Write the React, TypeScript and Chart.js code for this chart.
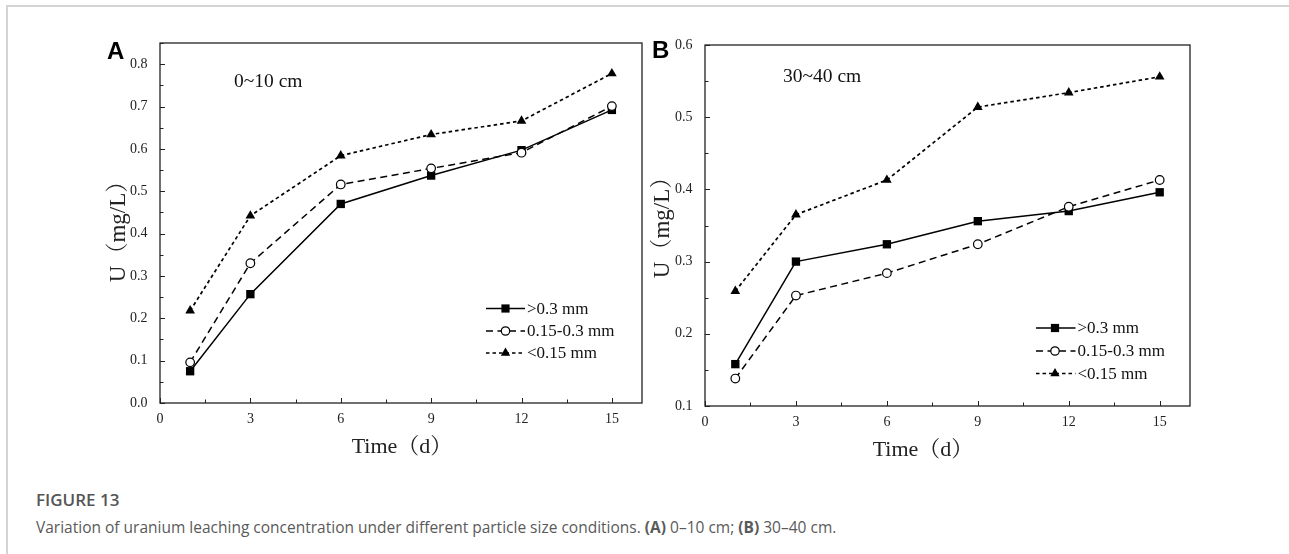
import React, { useEffect, useRef } from 'react';
import { Chart, registerables } from 'chart.js';

Chart.register(...registerables);

// ---------- data ----------
const DAYS = [1, 3, 6, 9, 12, 15];
const SERIES_LABELS = ['>0.3 mm', '0.15-0.3 mm', '<0.15 mm'];
const A_COARSE = [0.075, 0.257, 0.47, 0.537, 0.597, 0.692];
const A_MEDIUM = [0.096, 0.33, 0.516, 0.554, 0.591, 0.701];
const A_FINE = [0.218, 0.442, 0.584, 0.634, 0.666, 0.778];
const B_COARSE = [0.158, 0.3, 0.324, 0.356, 0.37, 0.396];
const B_MEDIUM = [0.138, 0.253, 0.284, 0.324, 0.376, 0.413];
const B_FINE = [0.259, 0.365, 0.413, 0.514, 0.534, 0.556];
const PANEL_LETTERS = ['A', 'B'];
const DEPTH_LABELS = ['0~10 cm', '30~40 cm'];
const X_TITLE = 'Time（d）';
const Y_TITLE = 'U（mg/L）';
const CAPTION_HEAD = 'FIGURE 13';
const CAPTION_TEXT = 'Variation of uranium leaching concentration under different particle size conditions.';
const CAPTION_PARTS = ['(A)', ' 0–10 cm; ', '(B)', ' 30–40 cm.'];

const SERIF = "'Liberation Serif', 'Times New Roman', 'Noto Serif CJK SC', 'Noto Sans CJK SC', serif";
const DASHES = [[], [7, 4.5], [3.5, 3]];

function isMult(v: number, step: number) {
  const r = v / step;
  return Math.abs(r - Math.round(r)) < 1e-6;
}

function drawMarker(ctx: CanvasRenderingContext2D, kind: number, x: number, y: number) {
  ctx.save();
  ctx.setLineDash([]);
  ctx.strokeStyle = '#000';
  ctx.fillStyle = '#000';
  if (kind === 0) {
    const s = 4.1;
    ctx.fillRect(x - s, y - s, 2 * s, 2 * s);
  } else if (kind === 1) {
    ctx.beginPath();
    ctx.arc(x, y, 4.2, 0, Math.PI * 2);
    ctx.fillStyle = '#fff';
    ctx.fill();
    ctx.lineWidth = 1.2;
    ctx.stroke();
  } else {
    const r = 5.4;
    ctx.beginPath();
    ctx.moveTo(x, y - r);
    ctx.lineTo(x + r * Math.sin((2 * Math.PI) / 3), y - r * Math.cos((2 * Math.PI) / 3));
    ctx.lineTo(x + r * Math.sin((4 * Math.PI) / 3), y - r * Math.cos((4 * Math.PI) / 3));
    ctx.closePath();
    ctx.fill();
  }
  ctx.restore();
}

type PanelCfg = {
  idx: number;
  coarse: number[];
  medium: number[];
  fine: number[];
  yMin: number;
  yMax: number;
  top: number;
  padRight: number;
  yAxisW: number;
  xAxisH: number;
  letter: { x: number; y: number };
  depth: { x: number; y: number; size: number };
  legend: { x0: number; x1: number; xm: number; tx: number; rows: number[]; size: number };
  xTitle: { x: number; y: number };
  yTitle: { x: number; y: number };
};

function decorPlugin(cfg: PanelCfg) {
  return {
    id: 'decor' + cfg.idx,
    afterDraw(chart: any) {
      const ctx: CanvasRenderingContext2D = chart.ctx;
      const { left, top, right, bottom } = chart.chartArea;
      const xs = chart.scales.x;
      const ys = chart.scales.y;
      ctx.save();
      // frame
      ctx.strokeStyle = '#222';
      ctx.lineWidth = 1.3;
      ctx.setLineDash([]);
      ctx.strokeRect(left, top, right - left, bottom - top);
      // inward ticks
      ctx.lineWidth = 1;
      xs.ticks.forEach((t: any) => {
        if (!isMult(t.value, 1.5)) return;
        const major = isMult(t.value, 3);
        const px = Math.round(xs.getPixelForValue(t.value)) + 0.5;
        ctx.beginPath();
        ctx.moveTo(px, bottom);
        ctx.lineTo(px, bottom - (major ? 5 : 3.5));
        ctx.stroke();
      });
      ys.ticks.forEach((t: any) => {
        if (!isMult(t.value, 0.05)) return;
        const major = isMult(t.value, 0.1);
        const py = Math.round(ys.getPixelForValue(t.value)) + 0.5;
        ctx.beginPath();
        ctx.moveTo(left, py);
        ctx.lineTo(left + (major ? 5 : 3.5), py);
        ctx.stroke();
      });
      // panel letter
      ctx.fillStyle = '#000';
      ctx.font = "bold 24px 'Liberation Sans', Arial, sans-serif";
      ctx.textAlign = 'left';
      ctx.textBaseline = 'alphabetic';
      ctx.fillText(PANEL_LETTERS[cfg.idx], cfg.letter.x, cfg.letter.y);
      // depth label
      ctx.fillStyle = '#111';
      ctx.font = `${cfg.depth.size}px ${SERIF}`;
      ctx.textBaseline = 'middle';
      ctx.fillText(DEPTH_LABELS[cfg.idx], cfg.depth.x, cfg.depth.y);
      // legend
      const L = cfg.legend;
      SERIES_LABELS.forEach((lab, i) => {
        const y = L.rows[i];
        ctx.strokeStyle = '#000';
        ctx.lineWidth = i === 2 ? 1.7 : 1.5;
        ctx.setLineDash(DASHES[i]);
        ctx.beginPath();
        ctx.moveTo(L.x0, y);
        ctx.lineTo(L.x1, y);
        ctx.stroke();
        drawMarker(ctx, i, L.xm, y);
        ctx.setLineDash([]);
        ctx.fillStyle = '#111';
        ctx.font = `${L.size}px ${SERIF}`;
        ctx.textAlign = 'left';
        ctx.textBaseline = 'middle';
        ctx.fillText(lab, L.tx, y + 1);
      });
      // axis titles
      ctx.fillStyle = '#222';
      ctx.font = `22px ${SERIF}`;
      ctx.textAlign = 'center';
      ctx.textBaseline = 'middle';
      ctx.fillText(X_TITLE, cfg.xTitle.x, cfg.xTitle.y);
      ctx.save();
      ctx.font = `23px ${SERIF}`;
      ctx.translate(cfg.yTitle.x, cfg.yTitle.y);
      ctx.rotate(-Math.PI / 2);
      ctx.fillText(Y_TITLE, 0, 0);
      ctx.restore();
      ctx.restore();
    },
  };
}

function makeChart(canvas: HTMLCanvasElement, cfg: PanelCfg) {
  const pts = (arr: number[]) => DAYS.map((d, i) => ({ x: d, y: arr[i] }));
  const tickFont = { family: SERIF, size: 14 };
  return new Chart(canvas, {
    type: 'line',
    data: {
      datasets: [
        {
          label: SERIES_LABELS[0],
          data: pts(cfg.coarse),
          borderColor: '#000',
          borderWidth: 1.5,
          pointStyle: 'rect',
          pointRadius: 5.9,
          pointBackgroundColor: '#000',
          pointBorderColor: '#000',
          pointBorderWidth: 0,
          order: 1,
          tension: 0,
        },
        {
          label: SERIES_LABELS[1],
          data: pts(cfg.medium),
          borderColor: '#000',
          borderWidth: 1.5,
          borderDash: DASHES[1],
          pointStyle: 'circle',
          pointRadius: 4.3,
          pointBackgroundColor: '#fff',
          pointBorderColor: '#000',
          pointBorderWidth: 1.2,
          order: 0,
          tension: 0,
        },
        {
          label: SERIES_LABELS[2],
          data: pts(cfg.fine),
          borderColor: '#000',
          borderWidth: 1.7,
          borderDash: DASHES[2],
          pointStyle: 'triangle',
          pointRadius: 5.6,
          pointBackgroundColor: '#000',
          pointBorderColor: '#000',
          pointBorderWidth: 0,
          order: 2,
          tension: 0,
        },
      ],
    } as any,
    options: {
      responsive: false,
      animation: false,
      devicePixelRatio: 1,
      events: [],
      layout: { padding: { top: cfg.top, right: cfg.padRight, left: 0, bottom: 0 } },
      plugins: { legend: { display: false }, tooltip: { enabled: false } },
      scales: {
        x: {
          type: 'linear',
          min: 0,
          max: 16,
          ticks: {
            stepSize: 1.5,
            autoSkip: false,
            maxRotation: 0,
            padding: 8,
            color: '#222',
            font: tickFont,
            callback: (v: any) => (isMult(Number(v), 3) ? String(Math.round(Number(v))) : ''),
          },
          grid: { display: false, drawTicks: false },
          border: { display: false },
          afterFit: (s: any) => {
            s.height = cfg.xAxisH;
          },
        },
        y: {
          type: 'linear',
          min: cfg.yMin,
          max: cfg.yMax,
          ticks: {
            stepSize: 0.05,
            autoSkip: false,
            padding: 12.5,
            color: '#222',
            font: tickFont,
            callback: (v: any) => (isMult(Number(v), 0.1) ? Number(v).toFixed(1) : ''),
          },
          grid: { display: false, drawTicks: false },
          border: { display: false },
          afterFit: (s: any) => {
            s.width = cfg.yAxisW;
          },
        },
      },
    } as any,
    plugins: [decorPlugin(cfg) as any],
  });
}

const A_W = 650;
const B_W = 1289 - A_W;

const CFG_A: PanelCfg = {
  idx: 0,
  coarse: A_COARSE,
  medium: A_MEDIUM,
  fine: A_FINE,
  yMin: 0,
  yMax: 0.85,
  top: 43,
  padRight: A_W - 646,
  yAxisW: 160,
  xAxisH: 480 - 403,
  letter: { x: 107, y: 59 },
  depth: { x: 234, y: 82, size: 19.5 },
  legend: { x0: 486, x1: 525, xm: 505.5, tx: 527, rows: [308.5, 331, 353], size: 17 },
  xTitle: { x: 402, y: 447 },
  yTitle: { x: 119, y: 226 },
};

const CFG_B: PanelCfg = {
  idx: 1,
  coarse: B_COARSE,
  medium: B_MEDIUM,
  fine: B_FINE,
  yMin: 0.1,
  yMax: 0.6,
  top: 45,
  padRight: B_W - (1190 - A_W),
  yAxisW: 705 - A_W,
  xAxisH: 480 - 406,
  letter: { x: 652 - A_W, y: 58 },
  depth: { x: 783 - A_W, y: 77, size: 19.5 },
  legend: { x0: 1036 - A_W, x1: 1075.5 - A_W, xm: 1055 - A_W, tx: 1077.5 - A_W, rows: [328, 351, 373.5], size: 17 },
  xTitle: { x: 923 - A_W, y: 450 },
  yTitle: { x: 663 - A_W, y: 222 },
};

export default function App() {
  const refA = useRef<HTMLCanvasElement | null>(null);
  const refB = useRef<HTMLCanvasElement | null>(null);

  useEffect(() => {
    const a = refA.current ? makeChart(refA.current, CFG_A) : null;
    const b = refB.current ? makeChart(refB.current, CFG_B) : null;
    return () => {
      a?.destroy();
      b?.destroy();
    };
  }, []);

  return (
    <div style={{ position: 'absolute', left: 0, top: 0, width: 1289, height: 554, background: '#fff', overflow: 'hidden' }}>
      <div
        style={{
          position: 'absolute',
          left: 6,
          top: 5,
          width: 1289 - 6,
          height: 554 - 5,
          borderTop: '2px solid #d4d4d4',
          borderLeft: '2px solid #d4d4d4',
          boxSizing: 'border-box',
        }}
      />
      <canvas ref={refA} width={A_W} height={480} style={{ position: 'absolute', left: 0, top: 0 }} />
      <canvas ref={refB} width={B_W} height={480} style={{ position: 'absolute', left: A_W, top: 0 }} />
      <div
        style={{
          position: 'absolute',
          left: 36,
          top: 490,
          font: "600 17px 'Open Sans', sans-serif",
          lineHeight: '20px',
          color: '#555',
          whiteSpace: 'nowrap',
        }}
      >
        {CAPTION_HEAD}
      </div>
      <div
        style={{
          position: 'absolute',
          left: 36,
          top: 517,
          font: "15.5px 'Open Sans', sans-serif",
          lineHeight: '20px',
          color: '#5a5a5a',
          whiteSpace: 'nowrap',
        }}
      >
        {CAPTION_TEXT} <b>{CAPTION_PARTS[0]}</b>
        {CAPTION_PARTS[1]}
        <b>{CAPTION_PARTS[2]}</b>
        {CAPTION_PARTS[3]}
      </div>
    </div>
  );
}
